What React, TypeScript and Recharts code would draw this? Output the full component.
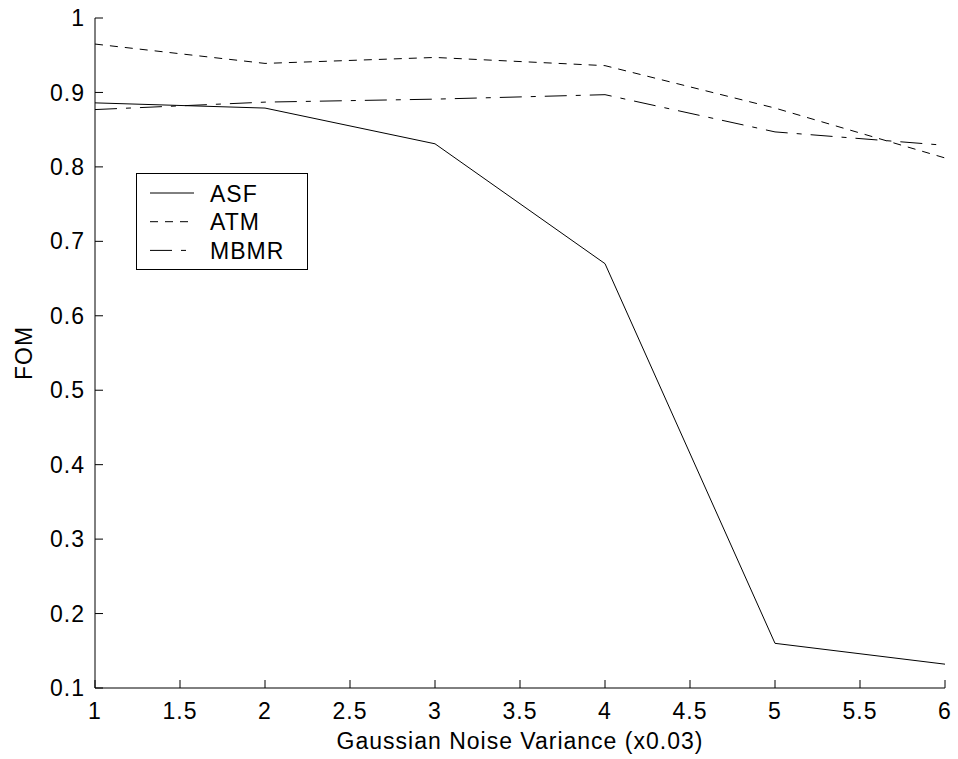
import { LineChart, Line, XAxis, YAxis, Legend } from 'recharts'

const FONT = '"Liberation Sans", Arial, Helvetica, sans-serif'

// noise variance steps (x0.03)
const noiseLevels = [1, 2, 3, 4, 5, 6]
const asfValues = [0.886, 0.879, 0.831, 0.67, 0.16, 0.132]
const atmValues = [0.965, 0.939, 0.947, 0.936, 0.879, 0.812]
const mbmrValues = [0.877, 0.887, 0.891, 0.897, 0.847, 0.829]

const xTicks = [1, 1.5, 2, 2.5, 3, 3.5, 4, 4.5, 5, 5.5, 6]
const yTicks = [0.1, 0.2, 0.3, 0.4, 0.5, 0.6, 0.7, 0.8, 0.9, 1]

const series = [
  { key: 'ASF', dash: undefined as string | undefined },
  { key: 'ATM', dash: '8 7' },
  { key: 'MBMR', dash: '22 9 5 9' },
]

const data = noiseLevels.map((x, i) => ({
  x,
  ASF: asfValues[i],
  ATM: atmValues[i],
  MBMR: mbmrValues[i],
}))

const FS = 23
const tickStyle = { fill: '#000', fontSize: FS, fontFamily: FONT, letterSpacing: 1 }

const YLabel = ({ viewBox }: any) => {
  const cx = 32
  const cy = viewBox.y + viewBox.height / 2
  return (
    <text
      x={cx}
      y={cy}
      transform={`rotate(-90, ${cx}, ${cy})`}
      textAnchor="middle"
      fill="#000"
      fontSize={FS}
      fontFamily={FONT}
      letterSpacing={1}
    >
      FOM
    </text>
  )
}

const LegendBox = () => (
  <svg width={172} height={97} style={{ display: 'block' }}>
    <rect x={0.5} y={0.5} width={171} height={96} fill="#fff" stroke="#000" strokeWidth={1} />
    {series.map((s, i) => {
      const y = 20 + i * 28.7
      return (
        <g key={s.key}>
          <line x1={14} x2={58} y1={y} y2={y} stroke="#000" strokeWidth={1} strokeDasharray={s.dash} />
          <text x={74} y={y + 8.5} fill="#000" fontSize={FS} fontFamily={FONT} letterSpacing={1}>
            {s.key}
          </text>
        </g>
      )
    })}
  </svg>
)

export default function App() {
  return (
    <div style={{ position: 'absolute', left: 0, top: 0, width: 958, height: 759, background: '#fff' }}>
      <LineChart width={958} height={759} data={data} margin={{ top: 18, right: 13, bottom: 0, left: 0 }}>
        <XAxis
          xAxisId="bottom"
          dataKey="x"
          type="number"
          domain={[1, 6]}
          ticks={xTicks}
          interval={0}
          height={71}
          tickSize={-8}
          tickMargin={23}
          stroke="#000"
          tick={tickStyle}
          label={{
            value: 'Gaussian Noise Variance (x0.03)',
            position: 'insideBottom',
            offset: 10,
            fill: '#000',
            fontSize: FS,
            fontFamily: FONT,
            letterSpacing: 1,
          }}
        />
        <XAxis
          xAxisId="top"
          orientation="top"
          dataKey="x"
          type="number"
          domain={[1, 6]}
          ticks={xTicks}
          interval={0}
          height={0}
          tickSize={-8}
          stroke="#000"
          tickFormatter={() => ''}
        />
        <YAxis
          yAxisId="left"
          type="number"
          domain={[0.1, 1]}
          ticks={yTicks}
          interval={0}
          width={95}
          tickSize={-8}
          tickMargin={18}
          stroke="#000"
          tick={tickStyle}
          tickFormatter={(v) => String(+v.toFixed(1))}
          label={{ content: <YLabel /> }}
        />
        <YAxis
          yAxisId="right"
          orientation="right"
          type="number"
          domain={[0.1, 1]}
          ticks={yTicks}
          interval={0}
          width={0}
          tickSize={-8}
          stroke="#000"
          tickFormatter={() => ''}
        />
        <Legend
          layout="vertical"
          verticalAlign="middle"
          align="center"
          content={<LegendBox />}
          wrapperStyle={{ position: 'absolute', left: 136, top: 173, width: 172, height: 97 }}
        />
        {series.map((s) => (
          <Line
            key={s.key}
            xAxisId="bottom"
            yAxisId="left"
            type="linear"
            dataKey={s.key}
            stroke="#000"
            strokeWidth={1}
            strokeDasharray={s.dash}
            dot={false}
            activeDot={false}
            isAnimationActive={false}
          />
        ))}
      </LineChart>
    </div>
  )
}
